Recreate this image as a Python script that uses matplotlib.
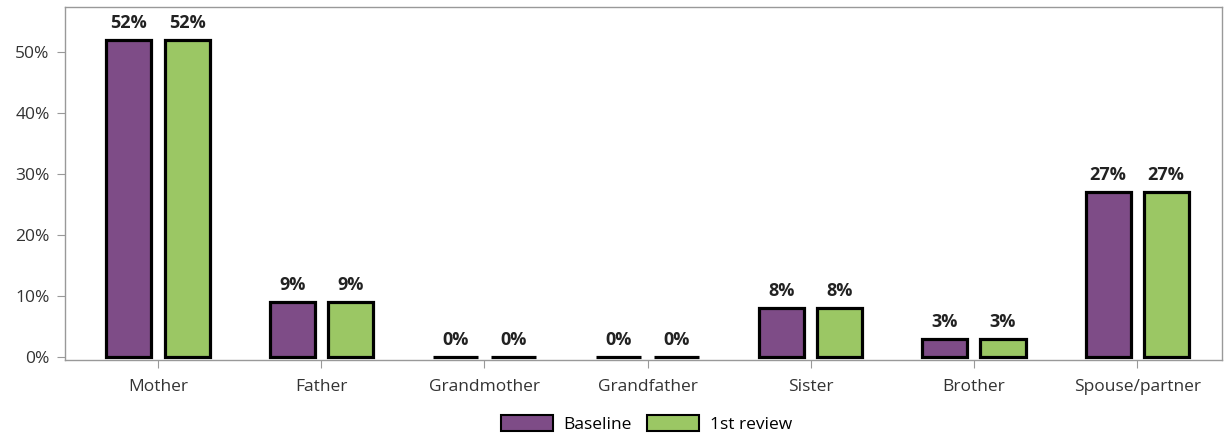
import numpy as np
import matplotlib.pyplot as plt
from matplotlib.patches import Patch

plt.rcParams['font.family'] = ['Open Sans', 'DejaVu Sans']

categories = ['Mother', 'Father', 'Grandmother', 'Grandfather', 'Sister', 'Brother', 'Spouse/partner']
baseline = [52, 9, 0, 0, 8, 3, 27]
review1 = [52, 9, 0, 0, 8, 3, 27]
series_names = ['Baseline', '1st review']
colors = ['#7e4c87', '#9bc764']

fig = plt.figure(figsize=(12.24, 4.37), dpi=100)
ax = fig.add_axes([65/1224, 1 - 360/437, (1222-65)/1224, (360-7)/437])

x = np.arange(len(categories))
w = 0.276
off = 0.178
for vals, dx, c in [(baseline, -off, colors[0]), (review1, off, colors[1])]:
    ax.bar(x + dx, vals, width=w, color=c, edgecolor='black', linewidth=2.3)
    for xi, v in zip(x + dx, vals):
        ax.text(xi, v + 1.3, f'{v}%', ha='center', va='bottom', fontsize=13,
                fontweight='bold', color='#222222')

ax.set_xlim(-0.57, 6.52)
ax.set_ylim(-0.5, 57.4)
ax.set_yticks([0, 10, 20, 30, 40, 50])
ax.set_yticklabels([f'{t}%' for t in [0, 10, 20, 30, 40, 50]])
ax.set_xticks(x)
ax.set_xticklabels(categories)
ax.tick_params(axis='both', labelsize=12.5, colors='#999999', labelcolor='#333333', length=6)
ax.tick_params(axis='y', pad=5)
ax.tick_params(axis='x', pad=8)
for s in ax.spines.values():
    s.set_color('#999999')
    s.set_linewidth(1)

handles = [Patch(facecolor=c, edgecolor='black', linewidth=1.5) for c in colors]
fig.legend(handles, series_names, loc='center', bbox_to_anchor=(0.528, 1 - 424/437),
           ncol=2, frameon=False, fontsize=12.5, handlelength=3.0, handleheight=1.0,
           handletextpad=0.6, columnspacing=0.9)

fig.savefig('out.png', dpi=100)
